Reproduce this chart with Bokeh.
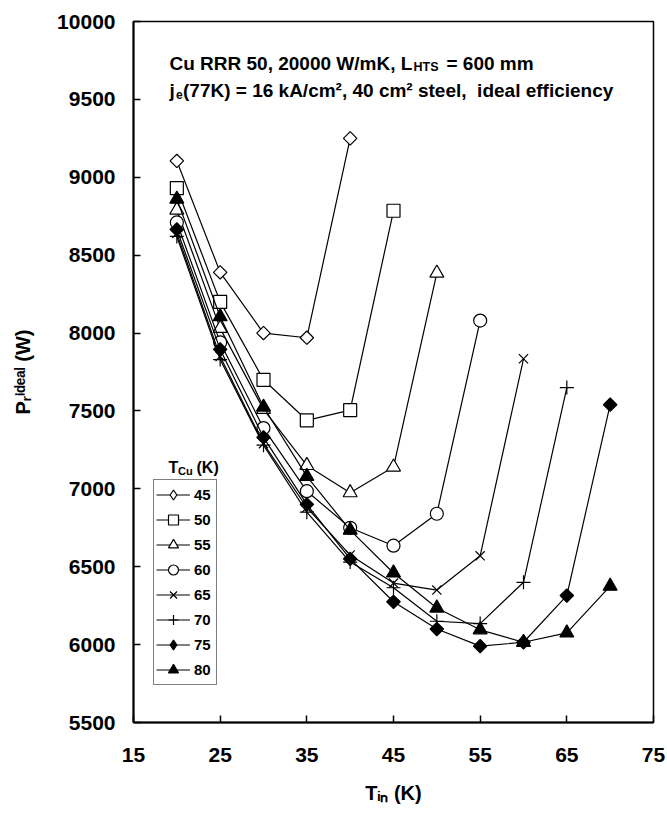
import numpy as np
from bokeh.plotting import figure
from bokeh.models import Label, Legend, LegendItem, FixedTicker
from bokeh.embed import file_html
from bokeh.resources import INLINE

# T_in (K) for each copper temperature
tin_45 = [20, 25, 30, 35, 40]
tin_50 = [20, 25, 30, 35, 40, 45]
tin_55 = [20, 25, 30, 35, 40, 45, 50]
tin_60 = [20, 25, 30, 35, 40, 45, 50, 55]
tin_65 = [20, 25, 30, 35, 40, 45, 50, 55, 60]
tin_70 = [20, 25, 30, 35, 40, 45, 50, 55, 60, 65]
tin_75 = [20, 25, 30, 35, 40, 45, 50, 55, 60, 65, 70]
tin_80 = [20, 25, 30, 35, 40, 45, 50, 55, 60, 65, 70]

# P_r ideal (W)
pr_45 = [9105, 8390, 8000, 7970, 9250]
pr_50 = [8930, 8200, 7700, 7440, 7505, 8785]
pr_55 = [8790, 8030, 7510, 7150, 6975, 7140, 8385]
pr_60 = [8710, 7940, 7390, 6985, 6750, 6635, 6840, 8080]
pr_65 = [8640, 7850, 7290, 6880, 6575, 6395, 6350, 6570, 7835]
pr_70 = [8620, 7830, 7280, 6850, 6530, 6365, 6150, 6135, 6400, 7650]
pr_75 = [8665, 7895, 7330, 6900, 6550, 6275, 6100, 5990, 6015, 6315, 7540]
pr_80 = [8860, 8105, 7525, 7080, 6735, 6460, 6235, 6095, 6015, 6075, 6375]

t_cu = ["45", "50", "55", "60", "65", "70", "75", "80"]
x_ticks = [15, 25, 35, 45, 55, 65, 75]
y_ticks = [5500, 6000, 6500, 7000, 7500, 8000, 8500, 9000, 9500, 10000]

series = [(tin_45, pr_45), (tin_50, pr_50), (tin_55, pr_55), (tin_60, pr_60),
          (tin_65, pr_65), (tin_70, pr_70), (tin_75, pr_75), (tin_80, pr_80)]

# marker, size, angle, fill, legend marker
styles = [("square", 9.5, np.pi / 4, "white", "diamond"),
          ("square", 13, 0, "white", "square"),
          ("triangle", 14, 0, "white", "triangle"),
          ("circle", 13, 0, "white", "circle"),
          ("x", 13, 0, "white", "x"),
          ("cross", 14, 0, "white", "cross"),
          ("square", 9.5, np.pi / 4, "black", "diamond"),
          ("triangle", 14, 0, "black", "triangle")]

FONT = "Liberation Sans"

p = figure(frame_width=520, frame_height=701,
           min_border_left=133, min_border_right=13,
           min_border_top=21, min_border_bottom=91,
           x_range=(15, 75), y_range=(5500, 10000),
           output_backend="svg", toolbar_location=None, tools="")

p.grid.grid_line_color = None
p.outline_line_color = "black"
p.outline_line_width = 1.5
p.background_fill_color = "white"

p.xaxis.ticker = FixedTicker(ticks=x_ticks)
p.yaxis.ticker = FixedTicker(ticks=y_ticks)
for ax in (p.xaxis, p.yaxis):
    ax.axis_line_width = 2
    ax.major_tick_in = 7
    ax.major_tick_out = 0
    ax.major_tick_line_width = 1.5
    ax.minor_tick_line_color = None
    ax.major_label_text_font = FONT
    ax.major_label_text_font_style = "bold"
    ax.major_label_text_font_size = "21px"
    ax.major_label_text_color = "black"
    ax.axis_label_text_font = FONT
    ax.axis_label_text_font_style = "bold"
    ax.axis_label_text_font_size = "20px"
    ax.axis_label_text_color = "black"
p.xaxis.major_label_standoff = 25
p.yaxis.major_label_standoff = 18
p.xaxis.axis_label = "T\u1d62\u2099 (K)"
p.yaxis.axis_label = "P\u1d63\u2071\u1d48\u1d49\u1d43\u02e1 (W)"
p.xaxis.axis_label_standoff = 17
p.yaxis.axis_label_standoff = 20

items = []
for (xs, ys), (mk, sz, ang, fill, lmk), name in zip(series, styles, t_cu):
    rl = p.line(xs, ys, line_color="black", line_width=1.2)
    rs = p.scatter(xs, ys, marker=mk, size=sz, angle=ang,
                   fill_color=fill, line_color="black", line_width=1.2)
    if lmk == mk:
        items.append(LegendItem(label=name, renderers=[rl, rs]))
    else:
        # legend-only marker (rotated squares are drawn unrotated in legends)
        rk = p.scatter([np.nan], [np.nan], marker=lmk, size=sz,
                       fill_color=fill, line_color="black", line_width=1.2)
        items.append(LegendItem(label=name, renderers=[rl, rk]))

legend = Legend(items=items, location=(20, 37),
                glyph_width=34, glyph_height=25, label_height=25,
                spacing=0, padding=2, margin=0, label_standoff=4,
                label_text_font=FONT, label_text_font_style="bold",
                label_text_font_size="15px", label_text_color="black",
                border_line_color="black", border_line_width=1.5,
                background_fill_color="white", background_fill_alpha=1)
p.add_layout(legend)


def add_text(px, py, s, size):
    # px, py: page position of the text baseline start
    p.add_layout(Label(x=px - 133, y=722 - py, x_units="screen", y_units="screen",
                       text=s, text_font=FONT, text_font_style="bold",
                       text_font_size=f"{size}px", text_color="black",
                       text_align="left", text_baseline="alphabetic"))


# header
add_text(169, 63, "Cu RRR 50, 20000 W/mK, L", 19)
add_text(413, 66.5, "HTS", 12.5)
add_text(446, 63, "= 600 mm", 19)
add_text(169, 90, "j", 19)
add_text(175.5, 93.5, "e", 12)
add_text(182.5, 90, "(77K) = 16 kA/cm\u00b2, 40 cm\u00b2 steel,\u00a0 ideal efficiency", 19)

# legend title
add_text(168, 467, "T", 16)
add_text(177.5, 470, "Cu", 11)
add_text(196, 467, "(K)", 16)

open("out.html", "w").write(file_html(p, INLINE))
